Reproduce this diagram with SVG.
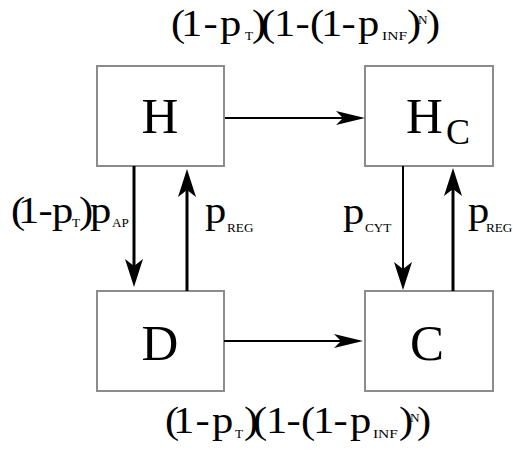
<svg xmlns="http://www.w3.org/2000/svg" width="513" height="459" viewBox="0 0 513 459">
<style>
.box{fill:#fff;stroke:#8c8c8c;stroke-width:2}
.node{font-family:"Liberation Serif","Times New Roman",serif;font-size:51px;fill:#000}
.lbl{font-family:"Liberation Serif","Times New Roman",serif;font-size:37px;fill:#000}
.sub{font-size:11.5px}
.sub2{font-size:13.5px}
.e{stroke:#000;fill:none}
.thin{stroke-width:2}
.thick{stroke-width:3}
</style>
<defs>
<marker id="ahV" markerUnits="userSpaceOnUse" viewBox="-29 -10 31 20" refX="-18" refY="0" markerWidth="31" markerHeight="20" orient="auto"><path d="M0,0 L-28,-9 L-21,0 L-28,9 Z" fill="#000"/></marker>
<marker id="ahH" markerUnits="userSpaceOnUse" viewBox="-30 -8 31 16" refX="-18" refY="0" markerWidth="31" markerHeight="16" orient="auto"><path d="M0,0 L-29,-7 L-22,0 L-29,7 Z" fill="#000"/></marker>
</defs>
<rect width="513" height="459" fill="#fff"/>
<g id="H"><rect class="box" x="97" y="66" width="127" height="100"/><text class="node" x="160" y="133" text-anchor="middle">H</text></g>
<g id="HC"><rect class="box" x="365" y="66" width="128" height="100"/><text class="node" x="406" y="133">H<tspan font-size="36" x="446" y="144">C</tspan></text></g>
<g id="D"><rect class="box" x="97" y="291" width="127" height="100"/><text class="node" x="160" y="360" text-anchor="middle">D</text></g>
<g id="C"><rect class="box" x="365" y="291" width="128" height="100"/><text class="node" x="427" y="360" text-anchor="middle">C</text></g>
<g id="connectors">
<line class="e thin" x1="225" y1="118" x2="347" y2="118" marker-end="url(#ahH)"/>
<line class="e thin" x1="224" y1="341" x2="345" y2="341" marker-end="url(#ahH)"/>
<line class="e thick" x1="134" y1="166" x2="134" y2="269" marker-end="url(#ahV)"/>
<line class="e thick" x1="187" y1="291" x2="187" y2="187" marker-end="url(#ahV)"/>
<line class="e thin" x1="403" y1="166" x2="403" y2="272" marker-end="url(#ahV)"/>
<line class="e thick" x1="453" y1="291" x2="453" y2="186" marker-end="url(#ahV)"/>
</g>
<g id="labels">
<text class="lbl" transform="scale(1.15,1)" y="36"><tspan x="148.7 157.4 177 191.3">(1-p</tspan><tspan class="sub" x="213" y="40">T</tspan><tspan x="219.1 227 238.3 257 269.6 279.1 297 311.3" y="36">)(1-(1-p</tspan><tspan class="sub2" x="332.2" y="40">INF</tspan><tspan x="353.9" y="36">)</tspan><tspan class="sub" x="363.5" y="24">N</tspan><tspan x="370.4" y="36">)</tspan></text>
<text class="lbl" transform="scale(1.15,1)" y="433"><tspan x="143.5 150.4 170 184.3">(1-p</tspan><tspan class="sub" x="204.3" y="438">T</tspan><tspan x="212.2 220 231.3 249.1 261.7 272.2 290 304.3" y="433">)(1-(1-p</tspan><tspan class="sub2" x="324.3" y="438">INF</tspan><tspan x="347" y="433">)</tspan><tspan class="sub" x="356.5" y="422">N</tspan><tspan x="362.6" y="433">)</tspan></text>
<text class="lbl" transform="scale(1.15,1)" y="223"><tspan x="9.6 15.7 33.5 45.2">(1-p</tspan><tspan class="sub" x="62.6" y="227">T</tspan><tspan x="68.7 78.3" y="223">)p</tspan><tspan class="sub" x="97.4" y="227">AP</tspan></text>
<text class="lbl" transform="scale(1.15,1)" y="223"><tspan x="178.3">p</tspan><tspan class="sub" x="197.4" y="232">REG</tspan></text>
<text class="lbl" transform="scale(1.15,1)" y="224"><tspan x="298.3">p</tspan><tspan class="sub" x="317.4" y="232">CYT</tspan></text>
<text class="lbl" transform="scale(1.15,1)" y="223"><tspan x="407">p</tspan><tspan class="sub" x="422.6" y="232">REG</tspan></text>
</g>
</svg>
